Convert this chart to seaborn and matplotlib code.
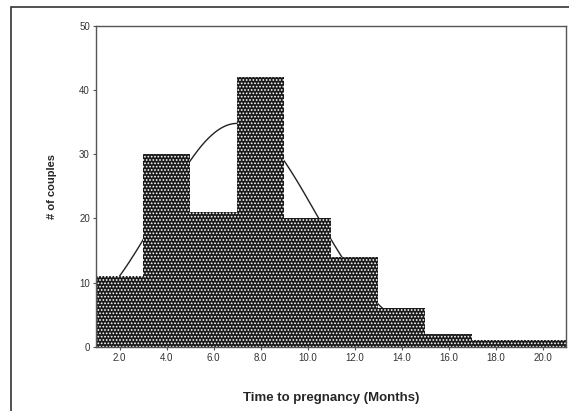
import numpy as np
import pandas as pd
import seaborn as sns
from matplotlib import pyplot as plt
from matplotlib.patches import Rectangle

# histogram: bin centres (months) and number of couples
months = [2.0, 4.0, 6.0, 8.0, 10.0, 12.0, 14.0, 16.0, 18.0, 20.0]
couples = [11, 30, 21, 42, 20, 14, 6, 2, 1, 1]
bin_edges = [1, 3, 5, 7, 9, 11, 13, 15, 17, 19, 21]
tick_labels = ["2.0", "4.0", "6.0", "8.0", "10.0", "12.0", "14.0", "16.0", "18.0", "20.0"]

# normal curve overlay (estimated fit parameters)
fit_mean = 7.0
fit_sd = 3.3
fit_n = 144

sns.set_style("white")
plt.rcParams['font.family'] = ['Liberation Sans', 'DejaVu Sans']
plt.rcParams['hatch.linewidth'] = 0.8
plt.rcParams['hatch.color'] = 'white'

df = pd.DataFrame({"month": months, "couples": couples})

fig = plt.figure(figsize=(5.69, 4.11), dpi=100)
ax = fig.add_axes([0.169, 0.156, 0.826, 0.781])

xs = np.linspace(1, 21, 300)
bw = bin_edges[1] - bin_edges[0]
ys = fit_n * bw / (fit_sd * np.sqrt(2 * np.pi)) * np.exp(-0.5 * ((xs - fit_mean) / fit_sd) ** 2)
sns.lineplot(x=xs, y=ys, ax=ax, color="#222222", linewidth=1.0, zorder=0.5)

sns.histplot(data=df, x="month", weights="couples", bins=bin_edges, ax=ax,
             color="#1a1a1a", alpha=1, edgecolor="white", linewidth=0,
             hatch=".....", zorder=1)

ax.set_xlim(1, 21)
ax.set_ylim(0, 50)
ax.set_xticks(months)
ax.set_xticklabels(tick_labels)
ax.set_yticks([0, 10, 20, 30, 40, 50])
ax.tick_params(axis="both", direction="out", length=2.5, width=0.8, labelsize=7,
               labelcolor="#333333", color="#555555", pad=2, bottom=True, left=True)
for s in ax.spines.values():
    s.set_color("#555555")
    s.set_linewidth(1.0)
    s.set_zorder(3)

ax.set_xlabel("Time to pregnancy (Months)", fontsize=9.5, fontweight="bold", labelpad=21)
ax.set_ylabel("# of couples", fontsize=8, fontweight="bold", labelpad=16)

# outer frame of the scanned figure
fig.patches.append(Rectangle((11 / 569, -0.05), 1.2, 1 - 7 / 411 + 0.05, transform=fig.transFigure,
                             fill=False, edgecolor="#333333", linewidth=1.2))

plt.savefig("out.png", dpi=100)
